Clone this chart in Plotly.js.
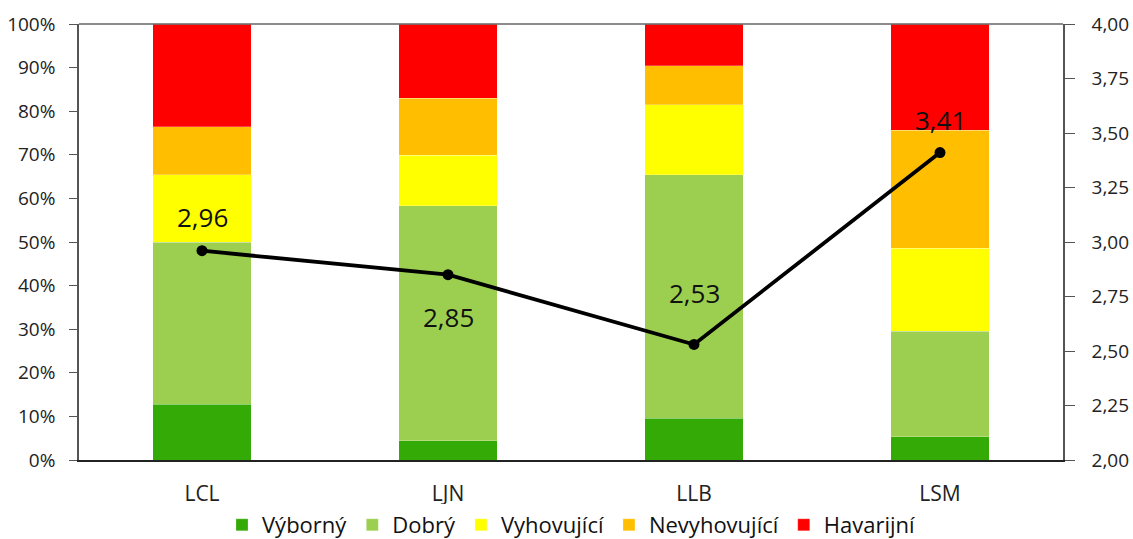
<!DOCTYPE html>
<html>
<head>
<meta charset="utf-8">
<script src="https://cdn.plot.ly/plotly-3.0.1.min.js"></script>
<style>html,body{margin:0;padding:0;background:#fff}#chart{width:1133px;height:539px}</style>
</head>
<body>
<div id="chart"></div>
<script>
const categories = ['LCL', 'LJN', 'LLB', 'LSM'];
const vyborny     = [12.8, 4.4, 9.6, 5.3];
const dobry       = [37.1, 53.9, 55.8, 24.2];
const vyhovujici  = [15.5, 11.6, 16.1, 19.1];
const nevyhovujici= [11.0, 13.1, 8.9, 27.0];
const havarijni   = [23.6, 17.0, 9.6, 24.4];
const average     = [2.96, 2.85, 2.53, 3.41];
const seriesNames = ['Výborný', 'Dobrý', 'Vyhovující', 'Nevyhovující', 'Havarijní'];
const seriesColors = ['#33aa05', '#9ccf4f', '#ffff00', '#ffbf00', '#ff0000'];
const labelShift = [34, -42, 51, 33];

const seriesData = [vyborny, dobry, vyhovujici, nevyhovujici, havarijni];
const traces = seriesData.map((vals, i) => ({
  type: 'bar',
  x: categories,
  y: vals,
  name: seriesNames[i],
  marker: {color: seriesColors[i], line: {color: 'rgba(255,255,255,0.5)', width: 0.5}},
  hoverinfo: 'x+y+name'
}));
traces.push({
  type: 'scatter',
  mode: 'lines+markers',
  x: categories,
  y: average,
  yaxis: 'y2',
  line: {color: '#000', width: 3.8},
  marker: {color: '#000', size: 11},
  showlegend: false
});

const annotations = categories.map((c, i) => ({
  x: c, y: average[i], xref: 'x', yref: 'y2',
  text: average[i].toFixed(2).replace('.', ','),
  showarrow: false,
  yshift: labelShift[i],
  font: {family: 'Open Sans', size: 26, color: '#111'}
}));

const tickFont = {family: 'Open Sans', size: 19, color: '#222'};

const layout = {
  width: 1133, height: 539,
  margin: {l: 79, r: 70, t: 24, b: 79},
  barmode: 'stack',
  bargap: 0.6,
  separators: ', ',
  paper_bgcolor: '#fff',
  plot_bgcolor: '#fff',
  showlegend: true,
  legend: {
    orientation: 'h', x: 0.5, xanchor: 'center',
    yref: 'container', y: 0.026, yanchor: 'middle',
    font: {family: 'Open Sans', size: 22, color: '#111'},
    traceorder: 'normal', itemwidth: 30
  },
  xaxis: {
    type: 'category',
    showline: true, linecolor: '#222', linewidth: 2, mirror: false,
    ticks: '', tickfont: {family: 'Open Sans', size: 21, color: '#222'},
    ticklabelstandoff: 14,
    showgrid: false, zeroline: false
  },
  yaxis: {
    range: [0, 100], dtick: 10, ticksuffix: '%',
    showline: true, linecolor: '#555', linewidth: 1.5,
    ticks: 'outside', ticklen: 8, tickcolor: '#555',
    ticklabelstandoff: 10,
    tickfont: tickFont, showgrid: false, zeroline: false
  },
  yaxis2: {
    overlaying: 'y', side: 'right',
    range: [2, 4], dtick: 0.25, tickformat: '.2f',
    showline: true, linecolor: '#555', linewidth: 1.5,
    ticks: 'outside', ticklen: 10, tickcolor: '#555',
    ticklabelstandoff: 13,
    tickfont: tickFont, showgrid: false, zeroline: false
  },
  shapes: [{
    type: 'line', xref: 'paper', yref: 'paper', x0: 0, x1: 1, y0: 1, y1: 1,
    line: {color: '#666', width: 1.5}
  }],
  annotations: annotations
};

Plotly.newPlot('chart', traces, layout, {displayModeBar: false, responsive: false});
</script>
</body>
</html>
